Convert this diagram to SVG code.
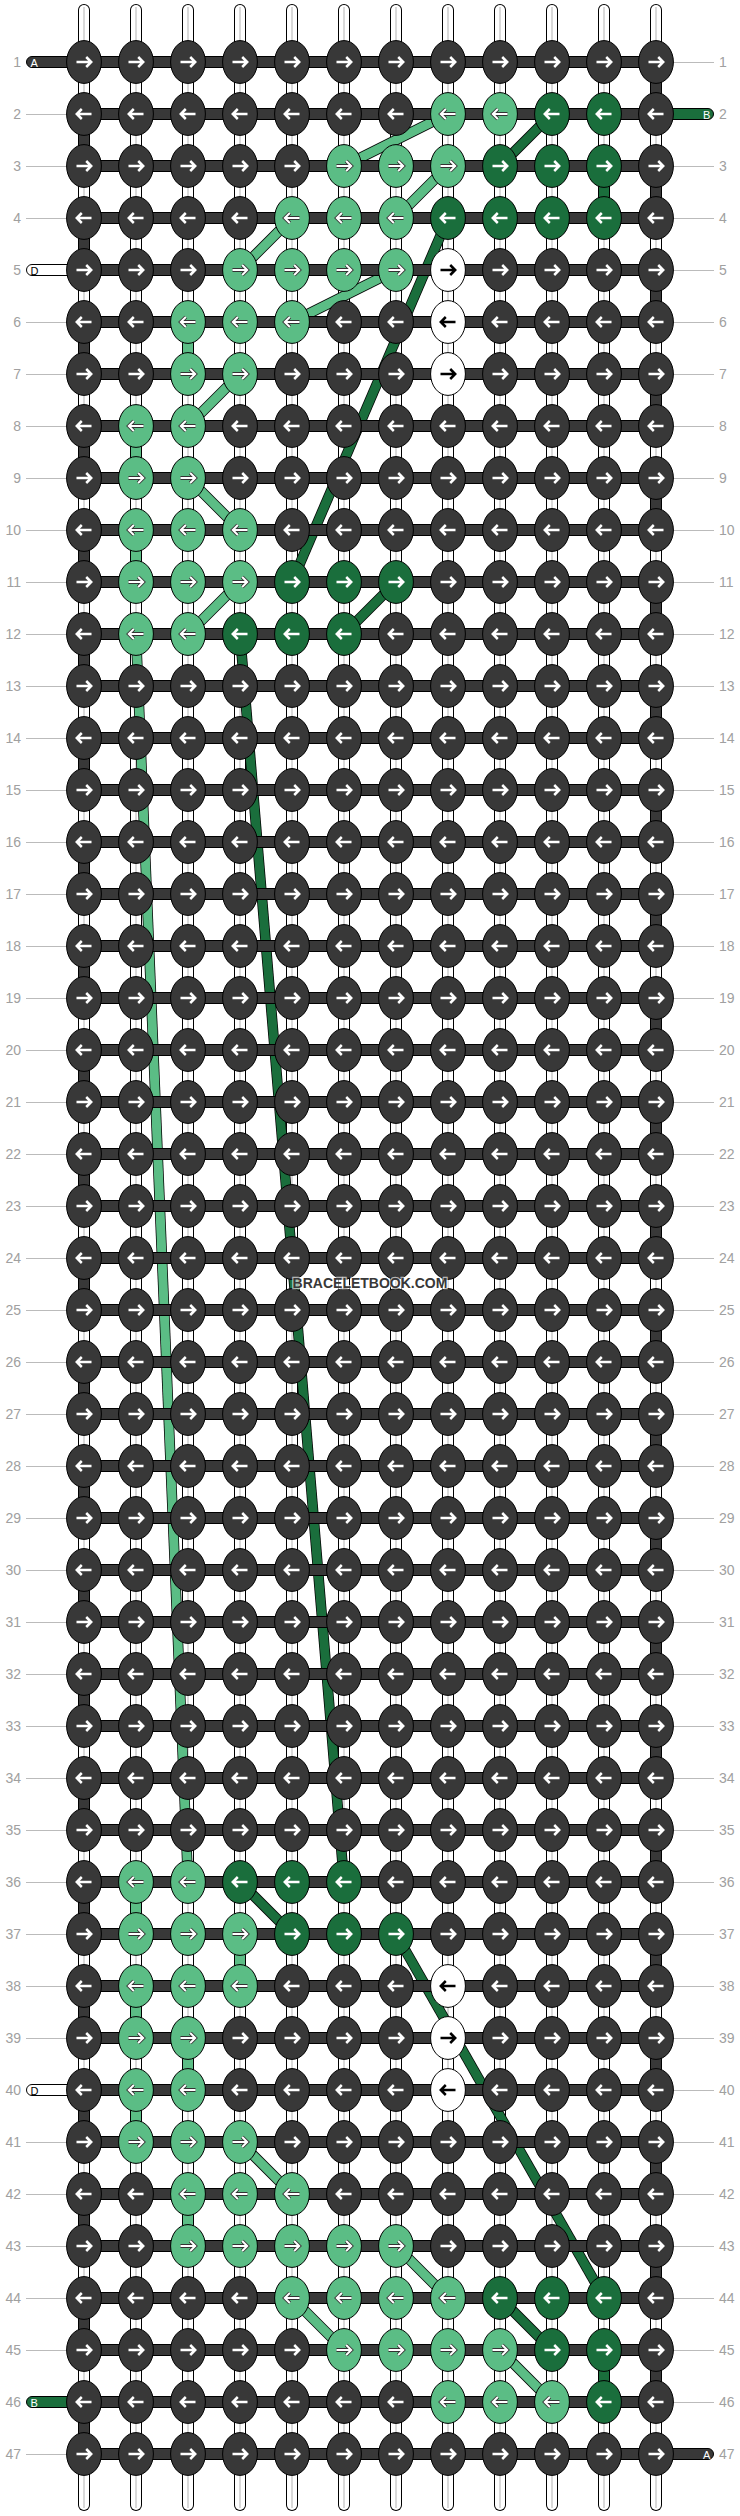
<svg xmlns="http://www.w3.org/2000/svg" width="740" height="2516" viewBox="0 0 740 2516">
<style>
.kd{fill:#383838;stroke:#000;stroke-width:1}
.kl{fill:#5bbd85;stroke:#000;stroke-width:1}
.kg{fill:#1a6e3c;stroke:#000;stroke-width:1}
.kw{fill:#fff;stroke:#000;stroke-width:1}
.aw{fill:none;stroke:#fff;stroke-width:2.5}
.ao{fill:none;stroke:#333;stroke-width:3.8}
.af{fill:none;stroke:#fff;stroke-width:2}
.ab{fill:none;stroke:#000;stroke-width:2.5}
.hs{fill:#383838;stroke:#000;stroke-width:1}
.hg{fill:#1a6e3c;stroke:#000;stroke-width:1}
.hw{fill:#fff;stroke:#000;stroke-width:1}
.vo{fill:none;stroke:#000;stroke-width:12;stroke-linecap:round}
.vw{fill:none;stroke:#fff;stroke-width:10;stroke-linecap:round}
.vc{fill:none;stroke:#ccc;stroke-width:1.5}
.so{fill:none;stroke:#000;stroke-width:12;stroke-dasharray:52 52}
.sd{fill:none;stroke:#383838;stroke-width:10;stroke-dasharray:52 52}
.o{fill:none;stroke:#000;stroke-width:10.5}
.fl{fill:none;stroke:#5bbd85;stroke-width:9}
.fg{fill:none;stroke:#1a6e3c;stroke-width:9}
.vl{fill:#5bbd85;stroke:#000;stroke-width:1}
.vg{fill:#1a6e3c;stroke:#000;stroke-width:1}
.rail{stroke:#bbb;stroke-width:1}
.num{font-family:"Liberation Sans",Arial,sans-serif;font-size:14px;fill:#a0a0a0}
.e{text-anchor:end}
.tab{font-family:"Liberation Sans",Arial,sans-serif;font-size:11px}
.wm{font-family:"Liberation Sans",Arial,sans-serif;font-size:14px;font-weight:700;fill:#383838;text-anchor:middle;stroke:#fff;stroke-opacity:.65;stroke-width:2.5;paint-order:stroke}
</style>
<defs>
<path id="ar" d="M-7.5 0H7M2.2-5L7.2 0L2.2 5"/>
<path id="al" d="M7.5 0H-7M-2.2-5L-7.2 0L-2.2 5"/>
<g id="dr"><ellipse class="kd" rx="17.4" ry="21.4"/><use href="#ar" class="aw"/></g>
<g id="dl"><ellipse class="kd" rx="17.4" ry="21.4"/><use href="#al" class="aw"/></g>
<g id="lr"><ellipse class="kl" rx="17.4" ry="21.4"/><use href="#ar" class="ao"/><use href="#ar" class="af"/></g>
<g id="ll"><ellipse class="kl" rx="17.4" ry="21.4"/><use href="#al" class="ao"/><use href="#al" class="af"/></g>
<g id="gr"><ellipse class="kg" rx="17.4" ry="21.4"/><use href="#ar" class="aw"/></g>
<g id="gl"><ellipse class="kg" rx="17.4" ry="21.4"/><use href="#al" class="aw"/></g>
<g id="wr"><ellipse class="kw" rx="17.4" ry="21.4"/><use href="#ar" class="ab"/></g>
<g id="wl"><ellipse class="kw" rx="17.4" ry="21.4"/><use href="#al" class="ab"/></g>
<g id="v"><line class="vo" y1="10" y2="2505"/><line class="vw" y1="10" y2="2505"/><line class="vc" y1="7" y2="2508"/></g>
<rect id="h" x="84" y="-5.5" width="572" height="11"/>
<path id="tl" d="M84-5.5H32a5.5 5.5 0 0 0 0 11H84Z"/>
<path id="tr" d="M656-5.5H708a5.5 5.5 0 0 1 0 11H656Z"/>
<line id="rl" class="rail" x1="26" x2="67" y1=".5" y2=".5"/>
<line id="rr" class="rail" x1="673" x2="714" y1=".5" y2=".5"/>
</defs>
<rect width="740" height="2516" fill="#fff"/>
<g id="vertical-strands">
<use href="#v" x="84"/><use href="#v" x="136"/><use href="#v" x="188"/><use href="#v" x="240"/><use href="#v" x="292"/><use href="#v" x="344"/><use href="#v" x="396"/><use href="#v" x="448"/><use href="#v" x="500"/><use href="#v" x="552"/><use href="#v" x="604"/><use href="#v" x="656"/>
<line class="so" x1="84" x2="84" y1="114" y2="2454"/><line class="sd" x1="84" x2="84" y1="114" y2="2454"/>
<line class="so" x1="656" x2="656" y1="62" y2="2402"/><line class="sd" x1="656" x2="656" y1="62" y2="2402"/>
</g>
<g id="connectors">
<rect class="vl" x="182.5" y="322" width="11" height="52"/>
<rect class="vl" x="130.5" y="426" width="11" height="52"/>
<rect class="vl" x="130.5" y="530" width="11" height="52"/>
<rect class="vl" x="130.5" y="1882" width="11" height="52"/>
<rect class="vl" x="234.5" y="1934" width="11" height="52"/>
<rect class="vl" x="130.5" y="1986" width="11" height="52"/>
<rect class="vl" x="182.5" y="2038" width="11" height="52"/>
<rect class="vl" x="130.5" y="2090" width="11" height="52"/>
<rect class="vl" x="182.5" y="2194" width="11" height="52"/>
<rect class="vg" x="598.5" y="166" width="11" height="52"/>
<rect class="vg" x="598.5" y="2350" width="11" height="52"/>
<g><path class="o" d="M240 270L292 218"/><path class="fl" d="M240 270L292 218"/></g>
<g><path class="o" d="M396 218L448 166"/><path class="fl" d="M396 218L448 166"/></g>
<g><path class="o" d="M448 114L344 166"/><path class="fl" d="M448 114L344 166"/></g>
<g><path class="o" d="M396 270L292 322"/><path class="fl" d="M396 270L292 322"/></g>
<g><path class="o" d="M188 426L240 374"/><path class="fl" d="M188 426L240 374"/></g>
<g><path class="o" d="M188 478L240 530"/><path class="fl" d="M188 478L240 530"/></g>
<g><path class="o" d="M188 634L240 582"/><path class="fl" d="M188 634L240 582"/></g>
<g><path class="o" d="M136 634L188 1882"/><path class="fl" d="M136 634L188 1882"/></g>
<g><path class="o" d="M240 2142L292 2194"/><path class="fl" d="M240 2142L292 2194"/></g>
<g><path class="o" d="M292 2298L344 2350"/><path class="fl" d="M292 2298L344 2350"/></g>
<g><path class="o" d="M396 2246L448 2298"/><path class="fl" d="M396 2246L448 2298"/></g>
<g><path class="o" d="M500 2350L552 2402"/><path class="fl" d="M500 2350L552 2402"/></g>
<g><path class="o" d="M552 114L500 166"/><path class="fg" d="M552 114L500 166"/></g>
<g><path class="o" d="M448 218L292 582"/><path class="fg" d="M448 218L292 582"/></g>
<g><path class="o" d="M396 582L344 634"/><path class="fg" d="M396 582L344 634"/></g>
<g><path class="o" d="M240 634L344 1882"/><path class="fg" d="M240 634L344 1882"/></g>
<g><path class="o" d="M240 1882L292 1934"/><path class="fg" d="M240 1882L292 1934"/></g>
<g><path class="o" d="M396 1934L604 2298"/><path class="fg" d="M396 1934L604 2298"/></g>
<g><path class="o" d="M500 2298L552 2350"/><path class="fg" d="M500 2298L552 2350"/></g>
</g>
<g id="horizontal-strands" class="hs">
<use href="#h" y="62"/><use href="#h" y="114"/><use href="#h" y="166"/><use href="#h" y="218"/><use href="#h" y="270"/><use href="#h" y="322"/><use href="#h" y="374"/><use href="#h" y="426"/><use href="#h" y="478"/><use href="#h" y="530"/><use href="#h" y="582"/><use href="#h" y="634"/><use href="#h" y="686"/><use href="#h" y="738"/><use href="#h" y="790"/><use href="#h" y="842"/><use href="#h" y="894"/><use href="#h" y="946"/><use href="#h" y="998"/><use href="#h" y="1050"/><use href="#h" y="1102"/><use href="#h" y="1154"/><use href="#h" y="1206"/><use href="#h" y="1258"/><use href="#h" y="1310"/><use href="#h" y="1362"/><use href="#h" y="1414"/><use href="#h" y="1466"/><use href="#h" y="1518"/><use href="#h" y="1570"/><use href="#h" y="1622"/><use href="#h" y="1674"/><use href="#h" y="1726"/><use href="#h" y="1778"/><use href="#h" y="1830"/><use href="#h" y="1882"/><use href="#h" y="1934"/><use href="#h" y="1986"/><use href="#h" y="2038"/><use href="#h" y="2090"/><use href="#h" y="2142"/><use href="#h" y="2194"/><use href="#h" y="2246"/><use href="#h" y="2298"/><use href="#h" y="2350"/><use href="#h" y="2402"/><use href="#h" y="2454"/>
</g>
<g id="strand-ends">
<g id="end-A-left"><use href="#tl" class="hs" y="62"/><text class="tab" x="30.5" y="66.5" fill="#fff">A</text></g>
<g id="end-D-top"><use href="#tl" class="hw" y="270"/><text class="tab" x="30.5" y="274.5" fill="#000">D</text></g>
<g id="end-D-bottom"><use href="#tl" class="hw" y="2090"/><text class="tab" x="30.5" y="2094.5" fill="#000">D</text></g>
<g id="end-B-left"><use href="#tl" class="hg" y="2402"/><text class="tab" x="30.5" y="2406.5" fill="#fff">B</text></g>
<g id="end-B-right"><use href="#tr" class="hg" y="114"/><text class="tab" x="703" y="118.5" fill="#fff">B</text></g>
<g id="end-A-right"><use href="#tr" class="hs" y="2454"/><text class="tab" x="703" y="2458.5" fill="#fff">A</text></g>
</g>
<g id="row-labels">
<g transform="translate(0,62)"><use href="#rr"/><text class="num e" x="21" y="5">1</text><text class="num" x="719" y="5">1</text></g>
<g transform="translate(0,114)"><use href="#rl"/><text class="num e" x="21" y="5">2</text><text class="num" x="719" y="5">2</text></g>
<g transform="translate(0,166)"><use href="#rl"/><use href="#rr"/><text class="num e" x="21" y="5">3</text><text class="num" x="719" y="5">3</text></g>
<g transform="translate(0,218)"><use href="#rl"/><use href="#rr"/><text class="num e" x="21" y="5">4</text><text class="num" x="719" y="5">4</text></g>
<g transform="translate(0,270)"><use href="#rr"/><text class="num e" x="21" y="5">5</text><text class="num" x="719" y="5">5</text></g>
<g transform="translate(0,322)"><use href="#rl"/><use href="#rr"/><text class="num e" x="21" y="5">6</text><text class="num" x="719" y="5">6</text></g>
<g transform="translate(0,374)"><use href="#rl"/><use href="#rr"/><text class="num e" x="21" y="5">7</text><text class="num" x="719" y="5">7</text></g>
<g transform="translate(0,426)"><use href="#rl"/><use href="#rr"/><text class="num e" x="21" y="5">8</text><text class="num" x="719" y="5">8</text></g>
<g transform="translate(0,478)"><use href="#rl"/><use href="#rr"/><text class="num e" x="21" y="5">9</text><text class="num" x="719" y="5">9</text></g>
<g transform="translate(0,530)"><use href="#rl"/><use href="#rr"/><text class="num e" x="21" y="5">10</text><text class="num" x="719" y="5">10</text></g>
<g transform="translate(0,582)"><use href="#rl"/><use href="#rr"/><text class="num e" x="21" y="5">11</text><text class="num" x="719" y="5">11</text></g>
<g transform="translate(0,634)"><use href="#rl"/><use href="#rr"/><text class="num e" x="21" y="5">12</text><text class="num" x="719" y="5">12</text></g>
<g transform="translate(0,686)"><use href="#rl"/><use href="#rr"/><text class="num e" x="21" y="5">13</text><text class="num" x="719" y="5">13</text></g>
<g transform="translate(0,738)"><use href="#rl"/><use href="#rr"/><text class="num e" x="21" y="5">14</text><text class="num" x="719" y="5">14</text></g>
<g transform="translate(0,790)"><use href="#rl"/><use href="#rr"/><text class="num e" x="21" y="5">15</text><text class="num" x="719" y="5">15</text></g>
<g transform="translate(0,842)"><use href="#rl"/><use href="#rr"/><text class="num e" x="21" y="5">16</text><text class="num" x="719" y="5">16</text></g>
<g transform="translate(0,894)"><use href="#rl"/><use href="#rr"/><text class="num e" x="21" y="5">17</text><text class="num" x="719" y="5">17</text></g>
<g transform="translate(0,946)"><use href="#rl"/><use href="#rr"/><text class="num e" x="21" y="5">18</text><text class="num" x="719" y="5">18</text></g>
<g transform="translate(0,998)"><use href="#rl"/><use href="#rr"/><text class="num e" x="21" y="5">19</text><text class="num" x="719" y="5">19</text></g>
<g transform="translate(0,1050)"><use href="#rl"/><use href="#rr"/><text class="num e" x="21" y="5">20</text><text class="num" x="719" y="5">20</text></g>
<g transform="translate(0,1102)"><use href="#rl"/><use href="#rr"/><text class="num e" x="21" y="5">21</text><text class="num" x="719" y="5">21</text></g>
<g transform="translate(0,1154)"><use href="#rl"/><use href="#rr"/><text class="num e" x="21" y="5">22</text><text class="num" x="719" y="5">22</text></g>
<g transform="translate(0,1206)"><use href="#rl"/><use href="#rr"/><text class="num e" x="21" y="5">23</text><text class="num" x="719" y="5">23</text></g>
<g transform="translate(0,1258)"><use href="#rl"/><use href="#rr"/><text class="num e" x="21" y="5">24</text><text class="num" x="719" y="5">24</text></g>
<g transform="translate(0,1310)"><use href="#rl"/><use href="#rr"/><text class="num e" x="21" y="5">25</text><text class="num" x="719" y="5">25</text></g>
<g transform="translate(0,1362)"><use href="#rl"/><use href="#rr"/><text class="num e" x="21" y="5">26</text><text class="num" x="719" y="5">26</text></g>
<g transform="translate(0,1414)"><use href="#rl"/><use href="#rr"/><text class="num e" x="21" y="5">27</text><text class="num" x="719" y="5">27</text></g>
<g transform="translate(0,1466)"><use href="#rl"/><use href="#rr"/><text class="num e" x="21" y="5">28</text><text class="num" x="719" y="5">28</text></g>
<g transform="translate(0,1518)"><use href="#rl"/><use href="#rr"/><text class="num e" x="21" y="5">29</text><text class="num" x="719" y="5">29</text></g>
<g transform="translate(0,1570)"><use href="#rl"/><use href="#rr"/><text class="num e" x="21" y="5">30</text><text class="num" x="719" y="5">30</text></g>
<g transform="translate(0,1622)"><use href="#rl"/><use href="#rr"/><text class="num e" x="21" y="5">31</text><text class="num" x="719" y="5">31</text></g>
<g transform="translate(0,1674)"><use href="#rl"/><use href="#rr"/><text class="num e" x="21" y="5">32</text><text class="num" x="719" y="5">32</text></g>
<g transform="translate(0,1726)"><use href="#rl"/><use href="#rr"/><text class="num e" x="21" y="5">33</text><text class="num" x="719" y="5">33</text></g>
<g transform="translate(0,1778)"><use href="#rl"/><use href="#rr"/><text class="num e" x="21" y="5">34</text><text class="num" x="719" y="5">34</text></g>
<g transform="translate(0,1830)"><use href="#rl"/><use href="#rr"/><text class="num e" x="21" y="5">35</text><text class="num" x="719" y="5">35</text></g>
<g transform="translate(0,1882)"><use href="#rl"/><use href="#rr"/><text class="num e" x="21" y="5">36</text><text class="num" x="719" y="5">36</text></g>
<g transform="translate(0,1934)"><use href="#rl"/><use href="#rr"/><text class="num e" x="21" y="5">37</text><text class="num" x="719" y="5">37</text></g>
<g transform="translate(0,1986)"><use href="#rl"/><use href="#rr"/><text class="num e" x="21" y="5">38</text><text class="num" x="719" y="5">38</text></g>
<g transform="translate(0,2038)"><use href="#rl"/><use href="#rr"/><text class="num e" x="21" y="5">39</text><text class="num" x="719" y="5">39</text></g>
<g transform="translate(0,2090)"><use href="#rr"/><text class="num e" x="21" y="5">40</text><text class="num" x="719" y="5">40</text></g>
<g transform="translate(0,2142)"><use href="#rl"/><use href="#rr"/><text class="num e" x="21" y="5">41</text><text class="num" x="719" y="5">41</text></g>
<g transform="translate(0,2194)"><use href="#rl"/><use href="#rr"/><text class="num e" x="21" y="5">42</text><text class="num" x="719" y="5">42</text></g>
<g transform="translate(0,2246)"><use href="#rl"/><use href="#rr"/><text class="num e" x="21" y="5">43</text><text class="num" x="719" y="5">43</text></g>
<g transform="translate(0,2298)"><use href="#rl"/><use href="#rr"/><text class="num e" x="21" y="5">44</text><text class="num" x="719" y="5">44</text></g>
<g transform="translate(0,2350)"><use href="#rl"/><use href="#rr"/><text class="num e" x="21" y="5">45</text><text class="num" x="719" y="5">45</text></g>
<g transform="translate(0,2402)"><use href="#rr"/><text class="num e" x="21" y="5">46</text><text class="num" x="719" y="5">46</text></g>
<g transform="translate(0,2454)"><use href="#rl"/><text class="num e" x="21" y="5">47</text><text class="num" x="719" y="5">47</text></g>
</g>
<g id="knots">
<g id="row1" transform="translate(0,62)"><g id="k1-1"><use href="#dr" x="84"/></g><g id="k1-2"><use href="#dr" x="136"/></g><g id="k1-3"><use href="#dr" x="188"/></g><g id="k1-4"><use href="#dr" x="240"/></g><g id="k1-5"><use href="#dr" x="292"/></g><g id="k1-6"><use href="#dr" x="344"/></g><g id="k1-7"><use href="#dr" x="396"/></g><g id="k1-8"><use href="#dr" x="448"/></g><g id="k1-9"><use href="#dr" x="500"/></g><g id="k1-10"><use href="#dr" x="552"/></g><g id="k1-11"><use href="#dr" x="604"/></g><g id="k1-12"><use href="#dr" x="656"/></g></g>
<g id="row2" transform="translate(0,114)"><g id="k2-1"><use href="#dl" x="84"/></g><g id="k2-2"><use href="#dl" x="136"/></g><g id="k2-3"><use href="#dl" x="188"/></g><g id="k2-4"><use href="#dl" x="240"/></g><g id="k2-5"><use href="#dl" x="292"/></g><g id="k2-6"><use href="#dl" x="344"/></g><g id="k2-7"><use href="#dl" x="396"/></g><g id="k2-8"><use href="#ll" x="448"/></g><g id="k2-9"><use href="#ll" x="500"/></g><g id="k2-10"><use href="#gl" x="552"/></g><g id="k2-11"><use href="#gl" x="604"/></g><g id="k2-12"><use href="#dl" x="656"/></g></g>
<g id="row3" transform="translate(0,166)"><g id="k3-1"><use href="#dr" x="84"/></g><g id="k3-2"><use href="#dr" x="136"/></g><g id="k3-3"><use href="#dr" x="188"/></g><g id="k3-4"><use href="#dr" x="240"/></g><g id="k3-5"><use href="#dr" x="292"/></g><g id="k3-6"><use href="#lr" x="344"/></g><g id="k3-7"><use href="#lr" x="396"/></g><g id="k3-8"><use href="#lr" x="448"/></g><g id="k3-9"><use href="#gr" x="500"/></g><g id="k3-10"><use href="#gr" x="552"/></g><g id="k3-11"><use href="#gr" x="604"/></g><g id="k3-12"><use href="#dr" x="656"/></g></g>
<g id="row4" transform="translate(0,218)"><g id="k4-1"><use href="#dl" x="84"/></g><g id="k4-2"><use href="#dl" x="136"/></g><g id="k4-3"><use href="#dl" x="188"/></g><g id="k4-4"><use href="#dl" x="240"/></g><g id="k4-5"><use href="#ll" x="292"/></g><g id="k4-6"><use href="#ll" x="344"/></g><g id="k4-7"><use href="#ll" x="396"/></g><g id="k4-8"><use href="#gl" x="448"/></g><g id="k4-9"><use href="#gl" x="500"/></g><g id="k4-10"><use href="#gl" x="552"/></g><g id="k4-11"><use href="#gl" x="604"/></g><g id="k4-12"><use href="#dl" x="656"/></g></g>
<g id="row5" transform="translate(0,270)"><g id="k5-1"><use href="#dr" x="84"/></g><g id="k5-2"><use href="#dr" x="136"/></g><g id="k5-3"><use href="#dr" x="188"/></g><g id="k5-4"><use href="#lr" x="240"/></g><g id="k5-5"><use href="#lr" x="292"/></g><g id="k5-6"><use href="#lr" x="344"/></g><g id="k5-7"><use href="#lr" x="396"/></g><g id="k5-8"><use href="#wr" x="448"/></g><g id="k5-9"><use href="#dr" x="500"/></g><g id="k5-10"><use href="#dr" x="552"/></g><g id="k5-11"><use href="#dr" x="604"/></g><g id="k5-12"><use href="#dr" x="656"/></g></g>
<g id="row6" transform="translate(0,322)"><g id="k6-1"><use href="#dl" x="84"/></g><g id="k6-2"><use href="#dl" x="136"/></g><g id="k6-3"><use href="#ll" x="188"/></g><g id="k6-4"><use href="#ll" x="240"/></g><g id="k6-5"><use href="#ll" x="292"/></g><g id="k6-6"><use href="#dl" x="344"/></g><g id="k6-7"><use href="#dl" x="396"/></g><g id="k6-8"><use href="#wl" x="448"/></g><g id="k6-9"><use href="#dl" x="500"/></g><g id="k6-10"><use href="#dl" x="552"/></g><g id="k6-11"><use href="#dl" x="604"/></g><g id="k6-12"><use href="#dl" x="656"/></g></g>
<g id="row7" transform="translate(0,374)"><g id="k7-1"><use href="#dr" x="84"/></g><g id="k7-2"><use href="#dr" x="136"/></g><g id="k7-3"><use href="#lr" x="188"/></g><g id="k7-4"><use href="#lr" x="240"/></g><g id="k7-5"><use href="#dr" x="292"/></g><g id="k7-6"><use href="#dr" x="344"/></g><g id="k7-7"><use href="#dr" x="396"/></g><g id="k7-8"><use href="#wr" x="448"/></g><g id="k7-9"><use href="#dr" x="500"/></g><g id="k7-10"><use href="#dr" x="552"/></g><g id="k7-11"><use href="#dr" x="604"/></g><g id="k7-12"><use href="#dr" x="656"/></g></g>
<g id="row8" transform="translate(0,426)"><g id="k8-1"><use href="#dl" x="84"/></g><g id="k8-2"><use href="#ll" x="136"/></g><g id="k8-3"><use href="#ll" x="188"/></g><g id="k8-4"><use href="#dl" x="240"/></g><g id="k8-5"><use href="#dl" x="292"/></g><g id="k8-6"><use href="#dl" x="344"/></g><g id="k8-7"><use href="#dl" x="396"/></g><g id="k8-8"><use href="#dl" x="448"/></g><g id="k8-9"><use href="#dl" x="500"/></g><g id="k8-10"><use href="#dl" x="552"/></g><g id="k8-11"><use href="#dl" x="604"/></g><g id="k8-12"><use href="#dl" x="656"/></g></g>
<g id="row9" transform="translate(0,478)"><g id="k9-1"><use href="#dr" x="84"/></g><g id="k9-2"><use href="#lr" x="136"/></g><g id="k9-3"><use href="#lr" x="188"/></g><g id="k9-4"><use href="#dr" x="240"/></g><g id="k9-5"><use href="#dr" x="292"/></g><g id="k9-6"><use href="#dr" x="344"/></g><g id="k9-7"><use href="#dr" x="396"/></g><g id="k9-8"><use href="#dr" x="448"/></g><g id="k9-9"><use href="#dr" x="500"/></g><g id="k9-10"><use href="#dr" x="552"/></g><g id="k9-11"><use href="#dr" x="604"/></g><g id="k9-12"><use href="#dr" x="656"/></g></g>
<g id="row10" transform="translate(0,530)"><g id="k10-1"><use href="#dl" x="84"/></g><g id="k10-2"><use href="#ll" x="136"/></g><g id="k10-3"><use href="#ll" x="188"/></g><g id="k10-4"><use href="#ll" x="240"/></g><g id="k10-5"><use href="#dl" x="292"/></g><g id="k10-6"><use href="#dl" x="344"/></g><g id="k10-7"><use href="#dl" x="396"/></g><g id="k10-8"><use href="#dl" x="448"/></g><g id="k10-9"><use href="#dl" x="500"/></g><g id="k10-10"><use href="#dl" x="552"/></g><g id="k10-11"><use href="#dl" x="604"/></g><g id="k10-12"><use href="#dl" x="656"/></g></g>
<g id="row11" transform="translate(0,582)"><g id="k11-1"><use href="#dr" x="84"/></g><g id="k11-2"><use href="#lr" x="136"/></g><g id="k11-3"><use href="#lr" x="188"/></g><g id="k11-4"><use href="#lr" x="240"/></g><g id="k11-5"><use href="#gr" x="292"/></g><g id="k11-6"><use href="#gr" x="344"/></g><g id="k11-7"><use href="#gr" x="396"/></g><g id="k11-8"><use href="#dr" x="448"/></g><g id="k11-9"><use href="#dr" x="500"/></g><g id="k11-10"><use href="#dr" x="552"/></g><g id="k11-11"><use href="#dr" x="604"/></g><g id="k11-12"><use href="#dr" x="656"/></g></g>
<g id="row12" transform="translate(0,634)"><g id="k12-1"><use href="#dl" x="84"/></g><g id="k12-2"><use href="#ll" x="136"/></g><g id="k12-3"><use href="#ll" x="188"/></g><g id="k12-4"><use href="#gl" x="240"/></g><g id="k12-5"><use href="#gl" x="292"/></g><g id="k12-6"><use href="#gl" x="344"/></g><g id="k12-7"><use href="#dl" x="396"/></g><g id="k12-8"><use href="#dl" x="448"/></g><g id="k12-9"><use href="#dl" x="500"/></g><g id="k12-10"><use href="#dl" x="552"/></g><g id="k12-11"><use href="#dl" x="604"/></g><g id="k12-12"><use href="#dl" x="656"/></g></g>
<g id="row13" transform="translate(0,686)"><g id="k13-1"><use href="#dr" x="84"/></g><g id="k13-2"><use href="#dr" x="136"/></g><g id="k13-3"><use href="#dr" x="188"/></g><g id="k13-4"><use href="#dr" x="240"/></g><g id="k13-5"><use href="#dr" x="292"/></g><g id="k13-6"><use href="#dr" x="344"/></g><g id="k13-7"><use href="#dr" x="396"/></g><g id="k13-8"><use href="#dr" x="448"/></g><g id="k13-9"><use href="#dr" x="500"/></g><g id="k13-10"><use href="#dr" x="552"/></g><g id="k13-11"><use href="#dr" x="604"/></g><g id="k13-12"><use href="#dr" x="656"/></g></g>
<g id="row14" transform="translate(0,738)"><g id="k14-1"><use href="#dl" x="84"/></g><g id="k14-2"><use href="#dl" x="136"/></g><g id="k14-3"><use href="#dl" x="188"/></g><g id="k14-4"><use href="#dl" x="240"/></g><g id="k14-5"><use href="#dl" x="292"/></g><g id="k14-6"><use href="#dl" x="344"/></g><g id="k14-7"><use href="#dl" x="396"/></g><g id="k14-8"><use href="#dl" x="448"/></g><g id="k14-9"><use href="#dl" x="500"/></g><g id="k14-10"><use href="#dl" x="552"/></g><g id="k14-11"><use href="#dl" x="604"/></g><g id="k14-12"><use href="#dl" x="656"/></g></g>
<g id="row15" transform="translate(0,790)"><g id="k15-1"><use href="#dr" x="84"/></g><g id="k15-2"><use href="#dr" x="136"/></g><g id="k15-3"><use href="#dr" x="188"/></g><g id="k15-4"><use href="#dr" x="240"/></g><g id="k15-5"><use href="#dr" x="292"/></g><g id="k15-6"><use href="#dr" x="344"/></g><g id="k15-7"><use href="#dr" x="396"/></g><g id="k15-8"><use href="#dr" x="448"/></g><g id="k15-9"><use href="#dr" x="500"/></g><g id="k15-10"><use href="#dr" x="552"/></g><g id="k15-11"><use href="#dr" x="604"/></g><g id="k15-12"><use href="#dr" x="656"/></g></g>
<g id="row16" transform="translate(0,842)"><g id="k16-1"><use href="#dl" x="84"/></g><g id="k16-2"><use href="#dl" x="136"/></g><g id="k16-3"><use href="#dl" x="188"/></g><g id="k16-4"><use href="#dl" x="240"/></g><g id="k16-5"><use href="#dl" x="292"/></g><g id="k16-6"><use href="#dl" x="344"/></g><g id="k16-7"><use href="#dl" x="396"/></g><g id="k16-8"><use href="#dl" x="448"/></g><g id="k16-9"><use href="#dl" x="500"/></g><g id="k16-10"><use href="#dl" x="552"/></g><g id="k16-11"><use href="#dl" x="604"/></g><g id="k16-12"><use href="#dl" x="656"/></g></g>
<g id="row17" transform="translate(0,894)"><g id="k17-1"><use href="#dr" x="84"/></g><g id="k17-2"><use href="#dr" x="136"/></g><g id="k17-3"><use href="#dr" x="188"/></g><g id="k17-4"><use href="#dr" x="240"/></g><g id="k17-5"><use href="#dr" x="292"/></g><g id="k17-6"><use href="#dr" x="344"/></g><g id="k17-7"><use href="#dr" x="396"/></g><g id="k17-8"><use href="#dr" x="448"/></g><g id="k17-9"><use href="#dr" x="500"/></g><g id="k17-10"><use href="#dr" x="552"/></g><g id="k17-11"><use href="#dr" x="604"/></g><g id="k17-12"><use href="#dr" x="656"/></g></g>
<g id="row18" transform="translate(0,946)"><g id="k18-1"><use href="#dl" x="84"/></g><g id="k18-2"><use href="#dl" x="136"/></g><g id="k18-3"><use href="#dl" x="188"/></g><g id="k18-4"><use href="#dl" x="240"/></g><g id="k18-5"><use href="#dl" x="292"/></g><g id="k18-6"><use href="#dl" x="344"/></g><g id="k18-7"><use href="#dl" x="396"/></g><g id="k18-8"><use href="#dl" x="448"/></g><g id="k18-9"><use href="#dl" x="500"/></g><g id="k18-10"><use href="#dl" x="552"/></g><g id="k18-11"><use href="#dl" x="604"/></g><g id="k18-12"><use href="#dl" x="656"/></g></g>
<g id="row19" transform="translate(0,998)"><g id="k19-1"><use href="#dr" x="84"/></g><g id="k19-2"><use href="#dr" x="136"/></g><g id="k19-3"><use href="#dr" x="188"/></g><g id="k19-4"><use href="#dr" x="240"/></g><g id="k19-5"><use href="#dr" x="292"/></g><g id="k19-6"><use href="#dr" x="344"/></g><g id="k19-7"><use href="#dr" x="396"/></g><g id="k19-8"><use href="#dr" x="448"/></g><g id="k19-9"><use href="#dr" x="500"/></g><g id="k19-10"><use href="#dr" x="552"/></g><g id="k19-11"><use href="#dr" x="604"/></g><g id="k19-12"><use href="#dr" x="656"/></g></g>
<g id="row20" transform="translate(0,1050)"><g id="k20-1"><use href="#dl" x="84"/></g><g id="k20-2"><use href="#dl" x="136"/></g><g id="k20-3"><use href="#dl" x="188"/></g><g id="k20-4"><use href="#dl" x="240"/></g><g id="k20-5"><use href="#dl" x="292"/></g><g id="k20-6"><use href="#dl" x="344"/></g><g id="k20-7"><use href="#dl" x="396"/></g><g id="k20-8"><use href="#dl" x="448"/></g><g id="k20-9"><use href="#dl" x="500"/></g><g id="k20-10"><use href="#dl" x="552"/></g><g id="k20-11"><use href="#dl" x="604"/></g><g id="k20-12"><use href="#dl" x="656"/></g></g>
<g id="row21" transform="translate(0,1102)"><g id="k21-1"><use href="#dr" x="84"/></g><g id="k21-2"><use href="#dr" x="136"/></g><g id="k21-3"><use href="#dr" x="188"/></g><g id="k21-4"><use href="#dr" x="240"/></g><g id="k21-5"><use href="#dr" x="292"/></g><g id="k21-6"><use href="#dr" x="344"/></g><g id="k21-7"><use href="#dr" x="396"/></g><g id="k21-8"><use href="#dr" x="448"/></g><g id="k21-9"><use href="#dr" x="500"/></g><g id="k21-10"><use href="#dr" x="552"/></g><g id="k21-11"><use href="#dr" x="604"/></g><g id="k21-12"><use href="#dr" x="656"/></g></g>
<g id="row22" transform="translate(0,1154)"><g id="k22-1"><use href="#dl" x="84"/></g><g id="k22-2"><use href="#dl" x="136"/></g><g id="k22-3"><use href="#dl" x="188"/></g><g id="k22-4"><use href="#dl" x="240"/></g><g id="k22-5"><use href="#dl" x="292"/></g><g id="k22-6"><use href="#dl" x="344"/></g><g id="k22-7"><use href="#dl" x="396"/></g><g id="k22-8"><use href="#dl" x="448"/></g><g id="k22-9"><use href="#dl" x="500"/></g><g id="k22-10"><use href="#dl" x="552"/></g><g id="k22-11"><use href="#dl" x="604"/></g><g id="k22-12"><use href="#dl" x="656"/></g></g>
<g id="row23" transform="translate(0,1206)"><g id="k23-1"><use href="#dr" x="84"/></g><g id="k23-2"><use href="#dr" x="136"/></g><g id="k23-3"><use href="#dr" x="188"/></g><g id="k23-4"><use href="#dr" x="240"/></g><g id="k23-5"><use href="#dr" x="292"/></g><g id="k23-6"><use href="#dr" x="344"/></g><g id="k23-7"><use href="#dr" x="396"/></g><g id="k23-8"><use href="#dr" x="448"/></g><g id="k23-9"><use href="#dr" x="500"/></g><g id="k23-10"><use href="#dr" x="552"/></g><g id="k23-11"><use href="#dr" x="604"/></g><g id="k23-12"><use href="#dr" x="656"/></g></g>
<g id="row24" transform="translate(0,1258)"><g id="k24-1"><use href="#dl" x="84"/></g><g id="k24-2"><use href="#dl" x="136"/></g><g id="k24-3"><use href="#dl" x="188"/></g><g id="k24-4"><use href="#dl" x="240"/></g><g id="k24-5"><use href="#dl" x="292"/></g><g id="k24-6"><use href="#dl" x="344"/></g><g id="k24-7"><use href="#dl" x="396"/></g><g id="k24-8"><use href="#dl" x="448"/></g><g id="k24-9"><use href="#dl" x="500"/></g><g id="k24-10"><use href="#dl" x="552"/></g><g id="k24-11"><use href="#dl" x="604"/></g><g id="k24-12"><use href="#dl" x="656"/></g></g>
<g id="row25" transform="translate(0,1310)"><g id="k25-1"><use href="#dr" x="84"/></g><g id="k25-2"><use href="#dr" x="136"/></g><g id="k25-3"><use href="#dr" x="188"/></g><g id="k25-4"><use href="#dr" x="240"/></g><g id="k25-5"><use href="#dr" x="292"/></g><g id="k25-6"><use href="#dr" x="344"/></g><g id="k25-7"><use href="#dr" x="396"/></g><g id="k25-8"><use href="#dr" x="448"/></g><g id="k25-9"><use href="#dr" x="500"/></g><g id="k25-10"><use href="#dr" x="552"/></g><g id="k25-11"><use href="#dr" x="604"/></g><g id="k25-12"><use href="#dr" x="656"/></g></g>
<g id="row26" transform="translate(0,1362)"><g id="k26-1"><use href="#dl" x="84"/></g><g id="k26-2"><use href="#dl" x="136"/></g><g id="k26-3"><use href="#dl" x="188"/></g><g id="k26-4"><use href="#dl" x="240"/></g><g id="k26-5"><use href="#dl" x="292"/></g><g id="k26-6"><use href="#dl" x="344"/></g><g id="k26-7"><use href="#dl" x="396"/></g><g id="k26-8"><use href="#dl" x="448"/></g><g id="k26-9"><use href="#dl" x="500"/></g><g id="k26-10"><use href="#dl" x="552"/></g><g id="k26-11"><use href="#dl" x="604"/></g><g id="k26-12"><use href="#dl" x="656"/></g></g>
<g id="row27" transform="translate(0,1414)"><g id="k27-1"><use href="#dr" x="84"/></g><g id="k27-2"><use href="#dr" x="136"/></g><g id="k27-3"><use href="#dr" x="188"/></g><g id="k27-4"><use href="#dr" x="240"/></g><g id="k27-5"><use href="#dr" x="292"/></g><g id="k27-6"><use href="#dr" x="344"/></g><g id="k27-7"><use href="#dr" x="396"/></g><g id="k27-8"><use href="#dr" x="448"/></g><g id="k27-9"><use href="#dr" x="500"/></g><g id="k27-10"><use href="#dr" x="552"/></g><g id="k27-11"><use href="#dr" x="604"/></g><g id="k27-12"><use href="#dr" x="656"/></g></g>
<g id="row28" transform="translate(0,1466)"><g id="k28-1"><use href="#dl" x="84"/></g><g id="k28-2"><use href="#dl" x="136"/></g><g id="k28-3"><use href="#dl" x="188"/></g><g id="k28-4"><use href="#dl" x="240"/></g><g id="k28-5"><use href="#dl" x="292"/></g><g id="k28-6"><use href="#dl" x="344"/></g><g id="k28-7"><use href="#dl" x="396"/></g><g id="k28-8"><use href="#dl" x="448"/></g><g id="k28-9"><use href="#dl" x="500"/></g><g id="k28-10"><use href="#dl" x="552"/></g><g id="k28-11"><use href="#dl" x="604"/></g><g id="k28-12"><use href="#dl" x="656"/></g></g>
<g id="row29" transform="translate(0,1518)"><g id="k29-1"><use href="#dr" x="84"/></g><g id="k29-2"><use href="#dr" x="136"/></g><g id="k29-3"><use href="#dr" x="188"/></g><g id="k29-4"><use href="#dr" x="240"/></g><g id="k29-5"><use href="#dr" x="292"/></g><g id="k29-6"><use href="#dr" x="344"/></g><g id="k29-7"><use href="#dr" x="396"/></g><g id="k29-8"><use href="#dr" x="448"/></g><g id="k29-9"><use href="#dr" x="500"/></g><g id="k29-10"><use href="#dr" x="552"/></g><g id="k29-11"><use href="#dr" x="604"/></g><g id="k29-12"><use href="#dr" x="656"/></g></g>
<g id="row30" transform="translate(0,1570)"><g id="k30-1"><use href="#dl" x="84"/></g><g id="k30-2"><use href="#dl" x="136"/></g><g id="k30-3"><use href="#dl" x="188"/></g><g id="k30-4"><use href="#dl" x="240"/></g><g id="k30-5"><use href="#dl" x="292"/></g><g id="k30-6"><use href="#dl" x="344"/></g><g id="k30-7"><use href="#dl" x="396"/></g><g id="k30-8"><use href="#dl" x="448"/></g><g id="k30-9"><use href="#dl" x="500"/></g><g id="k30-10"><use href="#dl" x="552"/></g><g id="k30-11"><use href="#dl" x="604"/></g><g id="k30-12"><use href="#dl" x="656"/></g></g>
<g id="row31" transform="translate(0,1622)"><g id="k31-1"><use href="#dr" x="84"/></g><g id="k31-2"><use href="#dr" x="136"/></g><g id="k31-3"><use href="#dr" x="188"/></g><g id="k31-4"><use href="#dr" x="240"/></g><g id="k31-5"><use href="#dr" x="292"/></g><g id="k31-6"><use href="#dr" x="344"/></g><g id="k31-7"><use href="#dr" x="396"/></g><g id="k31-8"><use href="#dr" x="448"/></g><g id="k31-9"><use href="#dr" x="500"/></g><g id="k31-10"><use href="#dr" x="552"/></g><g id="k31-11"><use href="#dr" x="604"/></g><g id="k31-12"><use href="#dr" x="656"/></g></g>
<g id="row32" transform="translate(0,1674)"><g id="k32-1"><use href="#dl" x="84"/></g><g id="k32-2"><use href="#dl" x="136"/></g><g id="k32-3"><use href="#dl" x="188"/></g><g id="k32-4"><use href="#dl" x="240"/></g><g id="k32-5"><use href="#dl" x="292"/></g><g id="k32-6"><use href="#dl" x="344"/></g><g id="k32-7"><use href="#dl" x="396"/></g><g id="k32-8"><use href="#dl" x="448"/></g><g id="k32-9"><use href="#dl" x="500"/></g><g id="k32-10"><use href="#dl" x="552"/></g><g id="k32-11"><use href="#dl" x="604"/></g><g id="k32-12"><use href="#dl" x="656"/></g></g>
<g id="row33" transform="translate(0,1726)"><g id="k33-1"><use href="#dr" x="84"/></g><g id="k33-2"><use href="#dr" x="136"/></g><g id="k33-3"><use href="#dr" x="188"/></g><g id="k33-4"><use href="#dr" x="240"/></g><g id="k33-5"><use href="#dr" x="292"/></g><g id="k33-6"><use href="#dr" x="344"/></g><g id="k33-7"><use href="#dr" x="396"/></g><g id="k33-8"><use href="#dr" x="448"/></g><g id="k33-9"><use href="#dr" x="500"/></g><g id="k33-10"><use href="#dr" x="552"/></g><g id="k33-11"><use href="#dr" x="604"/></g><g id="k33-12"><use href="#dr" x="656"/></g></g>
<g id="row34" transform="translate(0,1778)"><g id="k34-1"><use href="#dl" x="84"/></g><g id="k34-2"><use href="#dl" x="136"/></g><g id="k34-3"><use href="#dl" x="188"/></g><g id="k34-4"><use href="#dl" x="240"/></g><g id="k34-5"><use href="#dl" x="292"/></g><g id="k34-6"><use href="#dl" x="344"/></g><g id="k34-7"><use href="#dl" x="396"/></g><g id="k34-8"><use href="#dl" x="448"/></g><g id="k34-9"><use href="#dl" x="500"/></g><g id="k34-10"><use href="#dl" x="552"/></g><g id="k34-11"><use href="#dl" x="604"/></g><g id="k34-12"><use href="#dl" x="656"/></g></g>
<g id="row35" transform="translate(0,1830)"><g id="k35-1"><use href="#dr" x="84"/></g><g id="k35-2"><use href="#dr" x="136"/></g><g id="k35-3"><use href="#dr" x="188"/></g><g id="k35-4"><use href="#dr" x="240"/></g><g id="k35-5"><use href="#dr" x="292"/></g><g id="k35-6"><use href="#dr" x="344"/></g><g id="k35-7"><use href="#dr" x="396"/></g><g id="k35-8"><use href="#dr" x="448"/></g><g id="k35-9"><use href="#dr" x="500"/></g><g id="k35-10"><use href="#dr" x="552"/></g><g id="k35-11"><use href="#dr" x="604"/></g><g id="k35-12"><use href="#dr" x="656"/></g></g>
<g id="row36" transform="translate(0,1882)"><g id="k36-1"><use href="#dl" x="84"/></g><g id="k36-2"><use href="#ll" x="136"/></g><g id="k36-3"><use href="#ll" x="188"/></g><g id="k36-4"><use href="#gl" x="240"/></g><g id="k36-5"><use href="#gl" x="292"/></g><g id="k36-6"><use href="#gl" x="344"/></g><g id="k36-7"><use href="#dl" x="396"/></g><g id="k36-8"><use href="#dl" x="448"/></g><g id="k36-9"><use href="#dl" x="500"/></g><g id="k36-10"><use href="#dl" x="552"/></g><g id="k36-11"><use href="#dl" x="604"/></g><g id="k36-12"><use href="#dl" x="656"/></g></g>
<g id="row37" transform="translate(0,1934)"><g id="k37-1"><use href="#dr" x="84"/></g><g id="k37-2"><use href="#lr" x="136"/></g><g id="k37-3"><use href="#lr" x="188"/></g><g id="k37-4"><use href="#lr" x="240"/></g><g id="k37-5"><use href="#gr" x="292"/></g><g id="k37-6"><use href="#gr" x="344"/></g><g id="k37-7"><use href="#gr" x="396"/></g><g id="k37-8"><use href="#dr" x="448"/></g><g id="k37-9"><use href="#dr" x="500"/></g><g id="k37-10"><use href="#dr" x="552"/></g><g id="k37-11"><use href="#dr" x="604"/></g><g id="k37-12"><use href="#dr" x="656"/></g></g>
<g id="row38" transform="translate(0,1986)"><g id="k38-1"><use href="#dl" x="84"/></g><g id="k38-2"><use href="#ll" x="136"/></g><g id="k38-3"><use href="#ll" x="188"/></g><g id="k38-4"><use href="#ll" x="240"/></g><g id="k38-5"><use href="#dl" x="292"/></g><g id="k38-6"><use href="#dl" x="344"/></g><g id="k38-7"><use href="#dl" x="396"/></g><g id="k38-8"><use href="#wl" x="448"/></g><g id="k38-9"><use href="#dl" x="500"/></g><g id="k38-10"><use href="#dl" x="552"/></g><g id="k38-11"><use href="#dl" x="604"/></g><g id="k38-12"><use href="#dl" x="656"/></g></g>
<g id="row39" transform="translate(0,2038)"><g id="k39-1"><use href="#dr" x="84"/></g><g id="k39-2"><use href="#lr" x="136"/></g><g id="k39-3"><use href="#lr" x="188"/></g><g id="k39-4"><use href="#dr" x="240"/></g><g id="k39-5"><use href="#dr" x="292"/></g><g id="k39-6"><use href="#dr" x="344"/></g><g id="k39-7"><use href="#dr" x="396"/></g><g id="k39-8"><use href="#wr" x="448"/></g><g id="k39-9"><use href="#dr" x="500"/></g><g id="k39-10"><use href="#dr" x="552"/></g><g id="k39-11"><use href="#dr" x="604"/></g><g id="k39-12"><use href="#dr" x="656"/></g></g>
<g id="row40" transform="translate(0,2090)"><g id="k40-1"><use href="#dl" x="84"/></g><g id="k40-2"><use href="#ll" x="136"/></g><g id="k40-3"><use href="#ll" x="188"/></g><g id="k40-4"><use href="#dl" x="240"/></g><g id="k40-5"><use href="#dl" x="292"/></g><g id="k40-6"><use href="#dl" x="344"/></g><g id="k40-7"><use href="#dl" x="396"/></g><g id="k40-8"><use href="#wl" x="448"/></g><g id="k40-9"><use href="#dl" x="500"/></g><g id="k40-10"><use href="#dl" x="552"/></g><g id="k40-11"><use href="#dl" x="604"/></g><g id="k40-12"><use href="#dl" x="656"/></g></g>
<g id="row41" transform="translate(0,2142)"><g id="k41-1"><use href="#dr" x="84"/></g><g id="k41-2"><use href="#lr" x="136"/></g><g id="k41-3"><use href="#lr" x="188"/></g><g id="k41-4"><use href="#lr" x="240"/></g><g id="k41-5"><use href="#dr" x="292"/></g><g id="k41-6"><use href="#dr" x="344"/></g><g id="k41-7"><use href="#dr" x="396"/></g><g id="k41-8"><use href="#dr" x="448"/></g><g id="k41-9"><use href="#dr" x="500"/></g><g id="k41-10"><use href="#dr" x="552"/></g><g id="k41-11"><use href="#dr" x="604"/></g><g id="k41-12"><use href="#dr" x="656"/></g></g>
<g id="row42" transform="translate(0,2194)"><g id="k42-1"><use href="#dl" x="84"/></g><g id="k42-2"><use href="#dl" x="136"/></g><g id="k42-3"><use href="#ll" x="188"/></g><g id="k42-4"><use href="#ll" x="240"/></g><g id="k42-5"><use href="#ll" x="292"/></g><g id="k42-6"><use href="#dl" x="344"/></g><g id="k42-7"><use href="#dl" x="396"/></g><g id="k42-8"><use href="#dl" x="448"/></g><g id="k42-9"><use href="#dl" x="500"/></g><g id="k42-10"><use href="#dl" x="552"/></g><g id="k42-11"><use href="#dl" x="604"/></g><g id="k42-12"><use href="#dl" x="656"/></g></g>
<g id="row43" transform="translate(0,2246)"><g id="k43-1"><use href="#dr" x="84"/></g><g id="k43-2"><use href="#dr" x="136"/></g><g id="k43-3"><use href="#lr" x="188"/></g><g id="k43-4"><use href="#lr" x="240"/></g><g id="k43-5"><use href="#lr" x="292"/></g><g id="k43-6"><use href="#lr" x="344"/></g><g id="k43-7"><use href="#lr" x="396"/></g><g id="k43-8"><use href="#dr" x="448"/></g><g id="k43-9"><use href="#dr" x="500"/></g><g id="k43-10"><use href="#dr" x="552"/></g><g id="k43-11"><use href="#dr" x="604"/></g><g id="k43-12"><use href="#dr" x="656"/></g></g>
<g id="row44" transform="translate(0,2298)"><g id="k44-1"><use href="#dl" x="84"/></g><g id="k44-2"><use href="#dl" x="136"/></g><g id="k44-3"><use href="#dl" x="188"/></g><g id="k44-4"><use href="#dl" x="240"/></g><g id="k44-5"><use href="#ll" x="292"/></g><g id="k44-6"><use href="#ll" x="344"/></g><g id="k44-7"><use href="#ll" x="396"/></g><g id="k44-8"><use href="#ll" x="448"/></g><g id="k44-9"><use href="#gl" x="500"/></g><g id="k44-10"><use href="#gl" x="552"/></g><g id="k44-11"><use href="#gl" x="604"/></g><g id="k44-12"><use href="#dl" x="656"/></g></g>
<g id="row45" transform="translate(0,2350)"><g id="k45-1"><use href="#dr" x="84"/></g><g id="k45-2"><use href="#dr" x="136"/></g><g id="k45-3"><use href="#dr" x="188"/></g><g id="k45-4"><use href="#dr" x="240"/></g><g id="k45-5"><use href="#dr" x="292"/></g><g id="k45-6"><use href="#lr" x="344"/></g><g id="k45-7"><use href="#lr" x="396"/></g><g id="k45-8"><use href="#lr" x="448"/></g><g id="k45-9"><use href="#lr" x="500"/></g><g id="k45-10"><use href="#gr" x="552"/></g><g id="k45-11"><use href="#gr" x="604"/></g><g id="k45-12"><use href="#dr" x="656"/></g></g>
<g id="row46" transform="translate(0,2402)"><g id="k46-1"><use href="#dl" x="84"/></g><g id="k46-2"><use href="#dl" x="136"/></g><g id="k46-3"><use href="#dl" x="188"/></g><g id="k46-4"><use href="#dl" x="240"/></g><g id="k46-5"><use href="#dl" x="292"/></g><g id="k46-6"><use href="#dl" x="344"/></g><g id="k46-7"><use href="#dl" x="396"/></g><g id="k46-8"><use href="#ll" x="448"/></g><g id="k46-9"><use href="#ll" x="500"/></g><g id="k46-10"><use href="#ll" x="552"/></g><g id="k46-11"><use href="#gl" x="604"/></g><g id="k46-12"><use href="#dl" x="656"/></g></g>
<g id="row47" transform="translate(0,2454)"><g id="k47-1"><use href="#dr" x="84"/></g><g id="k47-2"><use href="#dr" x="136"/></g><g id="k47-3"><use href="#dr" x="188"/></g><g id="k47-4"><use href="#dr" x="240"/></g><g id="k47-5"><use href="#dr" x="292"/></g><g id="k47-6"><use href="#dr" x="344"/></g><g id="k47-7"><use href="#dr" x="396"/></g><g id="k47-8"><use href="#dr" x="448"/></g><g id="k47-9"><use href="#dr" x="500"/></g><g id="k47-10"><use href="#dr" x="552"/></g><g id="k47-11"><use href="#dr" x="604"/></g><g id="k47-12"><use href="#dr" x="656"/></g></g>
</g>
<text id="watermark" class="wm" x="370" y="1288">BRACELETBOOK.COM</text>
</svg>
